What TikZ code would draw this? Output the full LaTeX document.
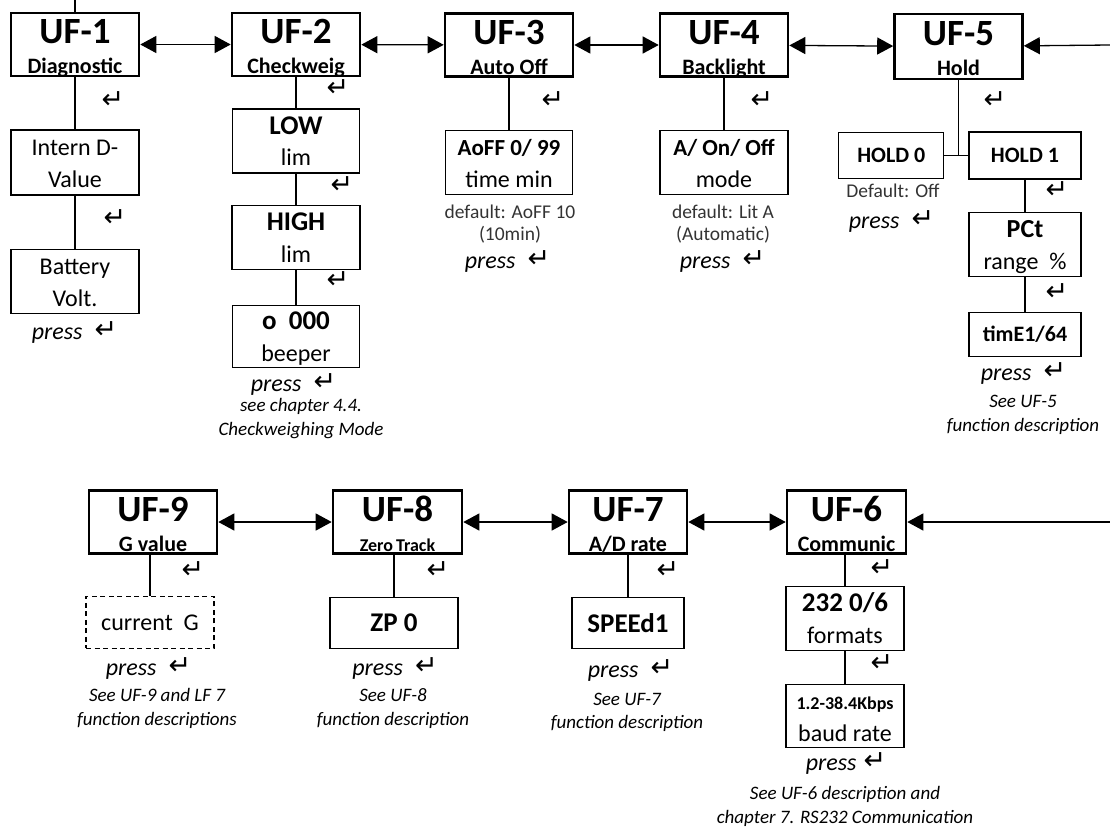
\documentclass[tikz,border=0pt]{standalone}
\usepackage{fontspec}
\setmainfont{Carlito}
\newfontfamily\arrowfont{DejaVu Sans}
\usetikzlibrary{arrows.meta,positioning}
\newcommand{\enterkey}{{\arrowfont\fontsize{27}{27}\selectfont ↵}}
\newcommand{\presskey}{\textit{press}\hspace{12pt}\raisebox{1pt}{\enterkey}}

\begin{document}
\begin{tikzpicture}[x=1pt, y=-1pt, >={Triangle[length=16pt,width=17pt]}, line width=1.3pt]
\tikzstyle{menu}=[draw, line width=2.6pt, minimum width=128pt, minimum height=63pt, inner sep=0pt, align=center, font=\bfseries\fontsize{22}{30}\selectfont, text height=60pt, text depth=2pt]
\tikzstyle{param}=[draw, line width=1.2pt, minimum width=127pt, minimum height=64pt, inner sep=0pt, align=center, font=\fontsize{24}{31.5}\selectfont, text height=54pt, text depth=4pt]
\tikzstyle{single}=[draw, line width=1.2pt, minimum width=112pt, minimum height=50pt, inner sep=0pt, font=\bfseries\fontsize{27}{27}\selectfont]
\tikzstyle{enter}=[inner sep=0pt, font=\arrowfont\fontsize{27}{27}\selectfont]
\tikzstyle{press}=[inner sep=0pt, anchor=base, font=\fontsize{24}{24}\selectfont]
\tikzstyle{note}=[inner sep=0pt, align=center, font=\itshape\fontsize{19}{23.5}\selectfont]
\tikzstyle{dflt}=[inner sep=0pt, align=center, font=\fontsize{19.5}{22}\selectfont, text=black!80]
\useasboundingbox (0,0) rectangle (1110,827);

% upper row
\node[menu] (uf1) at (75,44.5) {{\fontsize{37}{37}\selectfont UF-1}\\Diagnostic};
\node[menu] (uf2) at (296,44.5) {{\fontsize{37}{37}\selectfont UF-2}\\Checkweig};
\node[menu] (uf3) at (509,45) {{\fontsize{37}{37}\selectfont UF-3}\\Auto Off};
\node[menu] (uf4) at (724,45) {{\fontsize{37}{37}\selectfont UF-4}\\Backlight};
\node[menu, minimum height=65pt] (uf5) at (958.5,46.5) {{\fontsize{37}{37}\selectfont UF-5}\\Hold};
\coordinate (topin) at (75,0);
\coordinate (rtop) at (1110,45);

\node[param, minimum width=128pt, minimum height=65pt, below=52pt of uf1] (intern) {Intern D-\\Value};
\node[param, minimum width=128pt, below=53pt of intern] (batt) {Battery\\Volt.};
\node[param, below=31pt of uf2] (low) {{\fontsize{27}{27}\selectfont\bfseries LOW}\\lim};
\node[param, minimum width=128pt, below=31pt of low] (high) {{\fontsize{27}{27}\selectfont\bfseries HIGH}\\lim};
\node[param, minimum height=62pt, below=35pt of high] (beep) {{\fontsize{27}{27}\selectfont\bfseries o\ \ 000}\\beeper};
\node[param, below=52pt of uf3] (aoff) {{\fontsize{23}{23}\selectfont\bfseries AoFF 0/ 99}\\time min};
\node[param, minimum width=128pt, below=52pt of uf4] (aonoff) {{\fontsize{23}{23}\selectfont\bfseries A/ On/ Off}\\mode};
\node[single, font=\bfseries\fontsize{22}{22}\selectfont, minimum height=47pt, below=51pt of uf5, xshift=66.5pt] (hold1) {HOLD 1};
\node[single, font=\bfseries\fontsize{22}{22}\selectfont, minimum width=105pt, minimum height=46pt, left=24pt of hold1] (hold0) {HOLD 0};
\node[param, minimum width=112pt, below=32pt of hold1] (pct) {{\fontsize{26}{26}\selectfont\bfseries PCt}\\range\ \ \%};
\node[single, font=\bfseries\fontsize{22}{22}\selectfont, minimum height=44pt, below=35pt of pct] (time) {timE1/64};

\node[enter] (e1a) at (113,100) {↵};
\node[enter] (e1b) at (115,218) {↵};
\node[enter] (e2a) at (338,88) {↵};
\node[enter] (e2b) at (342,185) {↵};
\node[enter] (e2c) at (338,280) {↵};
\node[enter] (e3) at (553,100) {↵};
\node[enter] (e4) at (762,100) {↵};
\node[enter] (e5) at (995,100) {↵};
\node[enter] (e5a) at (1057,190) {↵};
\node[enter] (e5b) at (1057,292) {↵};

\node[press] (p1) at (74.5,339) {\presskey};
\node[press] (p2) at (293.5,391) {\presskey};
\node[press] (p3) at (507.5,268) {\presskey};
\node[press] (p4) at (722.5,268) {\presskey};
\node[press] (p5a) at (891.5,228) {\presskey};
\node[press] (p5b) at (1023.5,380) {\presskey};

\node[dflt] (d3) at (510,224) {default: AoFF 10\\(10min)};
\node[dflt] (d4) at (723,224) {default: Lit A\\(Automatic)};
\node[dflt] (d5) at (893,191) {Default: Off};
\node[note] (n2) at (301,418.5) {see chapter 4.4.\\Checkweighing Mode};
\node[note] (n5) at (1023,415) {See UF-5\\function description};

% lower row
\node[menu] (uf9) at (153,522) {{\fontsize{37}{37}\selectfont UF-9}\\G value};
\node[menu, minimum width=129pt] (uf8) at (397.5,522) {{\fontsize{37}{37}\selectfont UF-8}\\{\fontsize{18}{18}\selectfont Zero\,Track}};
\node[menu, minimum width=118pt] (uf7) at (628,522) {{\fontsize{37}{37}\selectfont UF-7}\\A/D rate};
\node[menu, minimum width=119pt] (uf6) at (846.5,522) {{\fontsize{37}{37}\selectfont UF-6}\\Communic};
\coordinate (rbot) at (1110,522);

\node[single, font=\fontsize{24}{24}\selectfont, dash pattern=on 5pt off 3.5pt, minimum width=128pt, minimum height=52pt, below=41pt of uf9, xshift=-3pt] (curg) {current\ \ G};
\node[single, minimum width=128pt, minimum height=51pt, below=42pt of uf8, xshift=-3.5pt] (zp) {ZP 0};
\node[single, minimum height=51pt, below=42pt of uf7] (speed) {SPEEd1};
\node[param, minimum width=118pt, below=31pt of uf6, xshift=-1.5pt] (fmt) {{\fontsize{27}{27}\selectfont\bfseries 232 0/6}\\formats};
\node[param, minimum width=118pt, minimum height=63pt, below=33pt of fmt] (baud) {{\fontsize{18}{18}\selectfont\bfseries 1.2-38.4Kbps}\\baud rate};

\node[enter] (e9) at (193,570) {↵};
\node[enter] (e8) at (438,570) {↵};
\node[enter] (e7) at (668,570) {↵};
\node[enter] (e6a) at (882,568) {↵};
\node[enter] (e6b) at (882,663) {↵};

\node[press] (p9) at (148.5,675) {\presskey};
\node[press] (p8) at (395,675) {\presskey};
\node[press] (p7) at (630.5,677) {\presskey};
\node[press] (p6) at (846,770) {\textit{press}\hspace{7pt}\raisebox{1pt}{\enterkey}};

\node[note] (n9) at (157,708.5) {See UF-9 and LF 7\\function descriptions};
\node[note] (n8) at (393,708.5) {See UF-8\\function description};
\node[note] (n7) at (627,712.5) {See UF-7\\function description};
\node[note] (n6) at (845,806.5) {See UF-6 description and\\chapter 7. RS232 Communication};

% connectors
\draw (topin) -- (uf1);
\draw[<->] (uf1) -- (uf2);
\draw[<->] (uf2) -- (uf3);
\draw[<->] (uf3) -- (uf4);
\draw[<->] (uf4) -- (uf5);
\draw[->] (rtop) -- (uf5);
\draw (uf1) -- (intern);
\draw (intern) -- (batt);
\draw (uf2) -- (low);
\draw (low) -- (high);
\draw (high) -- (beep);
\draw (uf3) -- (aoff);
\draw (uf4) -- (aonoff);
\draw (uf5) -- (uf5 |- hold0.east);
\draw (hold0) -- (hold1);
\draw (hold1) -- (pct);
\draw (pct) -- (time);
\draw[<->] (uf9) -- (uf8);
\draw[<->] (uf8) -- (uf7);
\draw[<->] (uf7) -- (uf6);
\draw[->] (rbot) -- (uf6);
\draw (curg) -- (curg |- uf9.south);
\draw (zp) -- (zp |- uf8.south);
\draw (uf7) -- (speed);
\draw (fmt) -- (fmt |- uf6.south);
\draw (fmt) -- (baud);
\end{tikzpicture}
\end{document}
